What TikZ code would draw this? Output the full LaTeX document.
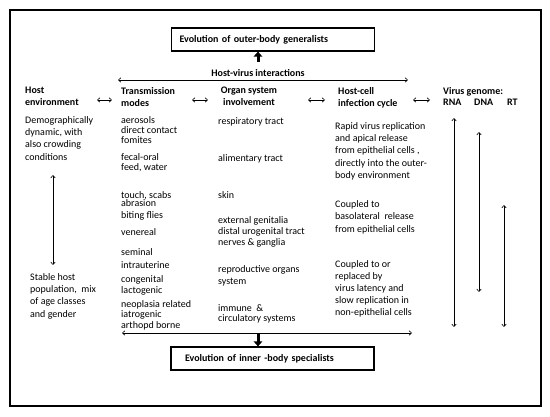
\documentclass[tikz,border=0pt]{standalone}
\usepackage{fontspec}
\setmainfont{Carlito}
\usetikzlibrary{arrows.meta}

\begin{document}
\begin{tikzpicture}[x=1pt, y=-1pt,
  every node/.style={inner sep=0pt, anchor=north west, align=left},
  head/.style={font=\fontsize{10}{12}\selectfont\bfseries},
  txt/.style={font=\fontsize{10}{#1}\selectfont},
  txt/.default=12.3,
  thin/.style={line width=0.6pt, {Straight Barb[length=2.5pt,width=4.5pt]}-{Straight Barb[length=2.5pt,width=4.5pt]}},
  fat/.style={line width=3pt, -{Triangle[length=5pt,width=8.5pt]}},
  evobox/.style={draw, line width=1.2pt, anchor=center, minimum width=203pt,
    minimum height=23pt, font=\fontsize{10}{12}\selectfont\bfseries}]
  \useasboundingbox (0,0) rectangle (550,417);
  \def\colEnv{25}
  \def\colTrans{121}
  \def\colOrgan{218}
  \def\colCell{335}
  \def\colGenome{443}

  % Frame
  \draw [line width=1.2pt] (10,10) rectangle (541,406);

  % Evolution boxes
  \node [evobox, text width=187pt, inner xsep=8pt] (outer) at (273,39.5) %
  {Evolution of outer-body generalists};
  \node [evobox, text width=175pt, inner xsep=13pt] (inner) at (272.5,358.5) %
  {Evolution of inner -body specialists};

  % Header section: nodes
  \node [head, anchor=center] (hvi) at (258,73) {Host-virus interactions};
  \node [head] (hostenv) at (\colEnv,87) {Host\\environment};
  \node [head] (trans) at (\colTrans,87) {Transmission\\modes};
  \node [head, align=center, anchor=north] (organ) at (249,87) %
  {Organ system\\involvement};
  \node [head] (hostcell) at (338,87) {Host-cell\\infection cycle};
  \node [head] (genome) at (\colGenome,87) {Virus genome:};
  \node [head] (rna) at (\colGenome,99) {RNA};
  \node [head] (dna) at (474,99) {DNA};
  \node [head] (rt) at (507,99) {RT};

  % Host environment: nodes
  \node [txt] (envtop) at (\colEnv,116) %
  {Demographically\\dynamic, with\\also crowding\\conditions};
  \node [txt] (envbot) at (30,273) %
  {Stable host\\population,~ mix\\of age classes\\and gender};

  % Transmission modes: nodes
  \node [txt=10] (tair) at (\colTrans,116) {aerosols\\direct contact\\fomites};
  \node [txt=10] (tfecal) at (\colTrans,153) {fecal-oral\\feed, water};
  \node [txt=8.5] (ttouch) at (\colTrans,191) {touch, scabs\\abrasion};
  \node [txt] (tbiting) at (\colTrans,211) {biting flies};
  \node [txt] (tvener) at (\colTrans,228) {venereal};
  \node [txt] (tsemin) at (\colTrans,248) {seminal};
  \node [txt] (tintra) at (\colTrans,261) {intrauterine};
  \node [txt] (tcong) at (\colTrans,275) {congenital};
  \node [txt] (tlact) at (\colTrans,286) {lactogenic};
  \node [txt=10.5] (tneo) at (\colTrans,300) %
  {neoplasia related\\iatrogenic\\arthopd borne};

  % Organ system involvement: nodes
  \node [txt] (oresp) at (\colOrgan,117) {respiratory tract};
  \node [txt] (oalim) at (\colOrgan,154) {alimentary tract};
  \node [txt] (oskin) at (\colOrgan,191) {skin};
  \node [txt=11] (ogenit) at (\colOrgan,216) %
  {external genitalia\\distal urogenital tract\\nerves \& ganglia};
  \node [txt=12] (orepro) at (\colOrgan,265) {reproductive organs\\system};
  \node [txt=10.5] (oimmune) at (\colOrgan,304) {immune~ \&\\circulatory systems};

  % Host-cell infection cycle: nodes
  \node [txt] (hcrapid) at (\colCell,122) %
  {Rapid virus replication\\and apical release\\from epithelial cells ,\\%
   directly into the outer-\\body environment};
  \node [txt=12.5] (hcbaso) at (\colCell,200) %
  {Coupled to\\basolateral~ release\\from epithelial cells};
  \node [txt=12.2] (hclatent) at (\colCell,260) %
  {Coupled to or\\replaced by\\virus latency and\\slow replication in\\%
   non-epithelial cells};

  % Connector ends
  \coordinate (hviL) at (118,80);
  \coordinate (hviR) at (408,80);
  \coordinate (botL) at (122,333);
  \coordinate (botR) at (412,333);
  \coordinate (botmid) at (258,333);
  \coordinate (envA) at (53,175);
  \coordinate (envB) at (53,265);
  \coordinate (rnaA) at (454,118);
  \coordinate (rnaB) at (454,327);
  \coordinate (dnaA) at (479,132);
  \coordinate (dnaB) at (479,292);
  \coordinate (rtA) at (504,205);
  \coordinate (rtB) at (504,327);

  % Header section: connections
  \draw [thin] (hviL) -- (hviR);
  \draw [fat] (hvi.north) ++(0,-7) -- (outer.south -| hvi.north);
  \draw [thin] (97,100) -- (112,100);
  \draw [thin] (192,100) -- (208,100);
  \draw [thin] (308,100) -- (325,100);
  \draw [thin] (413,100) -- (430,100);

  % Column connections
  \draw [thin] (envA) -- (envB);
  \draw [thin] (rnaA) -- (rnaB);
  \draw [thin] (dnaA) -- (dnaB);
  \draw [thin] (rtA) -- (rtB);

  % Bottom connections
  \draw [thin] (botL) -- (botR);
  \draw [fat] (botmid) -- (inner.north -| botmid);
\end{tikzpicture}
\end{document}
